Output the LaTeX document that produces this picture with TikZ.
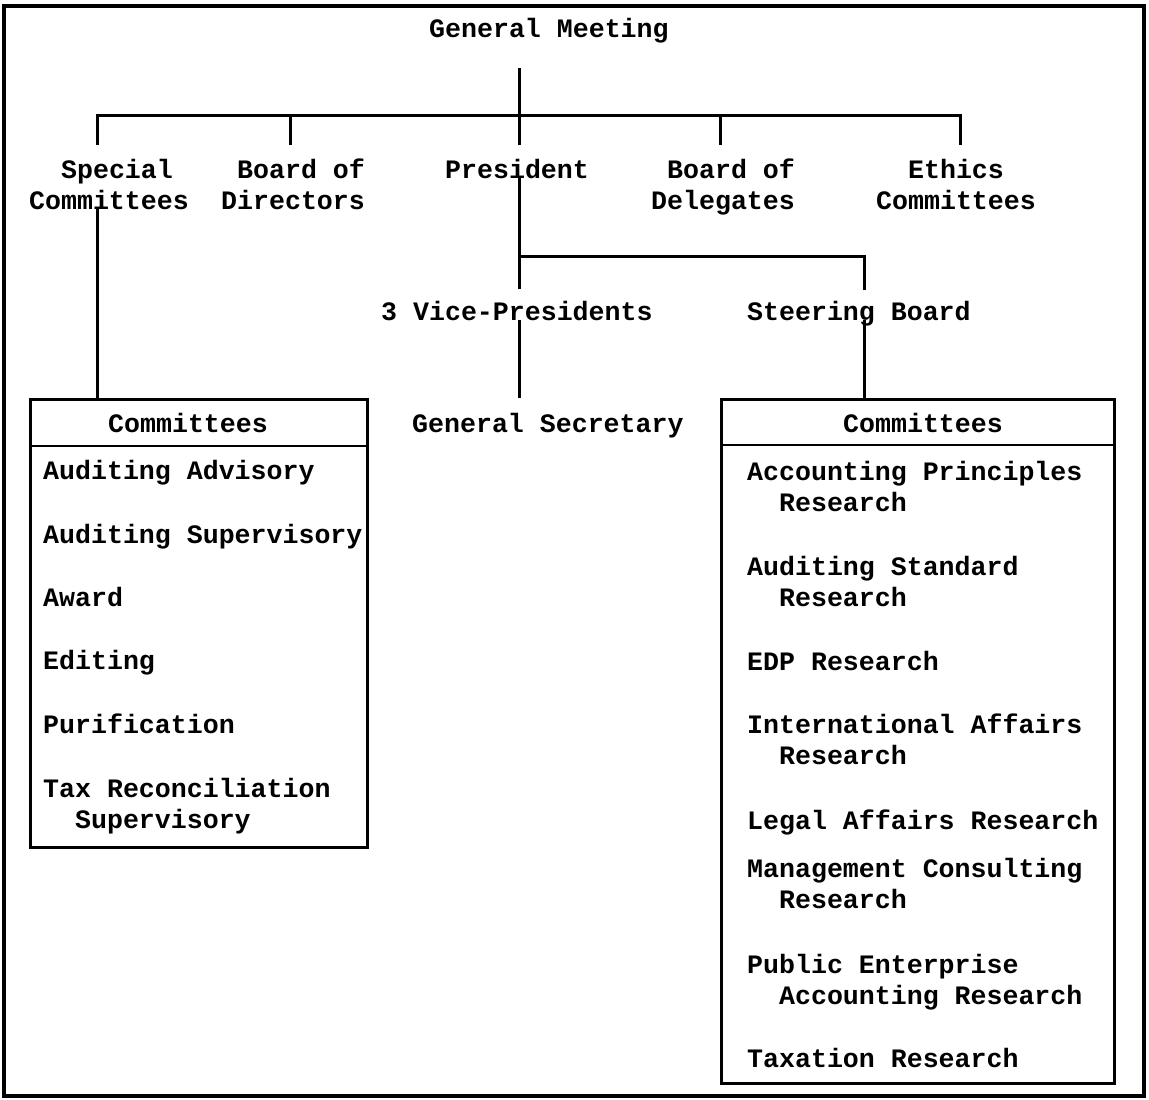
\documentclass[tikz,border=0pt]{standalone}
\usepackage{fontspec}
\setmainfont{Liberation Mono}
% width of one character of the monospaced face at the chart size
\newlength\cw
\setlength\cw{15.96pt}
\begin{document}
\begin{tikzpicture}[x=1pt,y=-1pt,
  every node/.style={font=\fontsize{26.6}{31}\selectfont\bfseries, inner sep=0pt},
  lbl/.style={anchor=base west},
  multi/.style={anchor=north west, align=left, yshift=21.7pt},
  conn/.style={line width=3pt},
  listbox/.style={draw, line width=2.8pt, anchor=north west},
  frame/.style={line width=3.5pt}]

\useasboundingbox (0,0) rectangle (1149,1100);
\draw[frame] (4,6) rectangle (1144,1096);

% committee boxes
\node[listbox, minimum width=337pt, minimum height=448pt] (lbox) at (29,398) {};
\node[listbox, minimum width=393pt, minimum height=684pt] (rbox) at (720,398) {};
\coordinate (lhd) at (29,446);
\coordinate (rhd) at (720,445);
\draw[line width=2.8pt] (lhd) -- (lhd -| lbox.east);
\draw[line width=2.8pt] (rhd) -- (rhd -| rbox.east);

% top level
\node[lbl] (gm) at (429,37) {General Meeting};
\node[multi] (spc) at (29,178) {\strut\hspace*{2\cw}Special\\Committees};
\node[multi] (bod) at (221,178) {\strut\hspace*{\cw}Board of\\Directors};
\node[lbl] (pres) at (445,178) {President};
\node[multi] (del) at (651,178) {\strut\hspace*{\cw}Board of\\Delegates};
\node[multi] (eth) at (876,178) {\strut\hspace*{2\cw}Ethics\\Committees};

% second level
\node[lbl] (vp) at (381,320) {3 Vice-Presidents};
\node[lbl] (sb) at (747,320) {Steering Board};
\node[lbl] (gs) at (412,432) {General Secretary};

% box headings
\node[lbl] (lhead) at (108,432) {Committees};
\node[lbl] (rhead) at (843,432) {Committees};

% left list
\node[multi] (l1) at (43,479) {\strut Auditing Advisory};
\node[multi] (l2) at (43,543) {\strut Auditing Supervisory};
\node[multi] (l3) at (43,606) {\strut Award};
\node[multi] (l4) at (43,669) {\strut Editing};
\node[multi] (l5) at (43,733) {\strut Purification};
\node[multi] (l6) at (43,797) {\strut Tax Reconciliation\\\hspace*{2\cw}Supervisory};

% right list
\node[multi] (r1) at (747,480) {\strut Accounting Principles\\\hspace*{2\cw}Research};
\node[multi] (r2) at (747,575) {\strut Auditing Standard\\\hspace*{2\cw}Research};
\node[multi] (r3) at (747,670) {\strut EDP Research};
\node[multi] (r4) at (747,733) {\strut International Affairs\\\hspace*{2\cw}Research};
\node[multi] (r5) at (747,829) {\strut Legal Affairs Research};
\node[multi] (r6) at (747,877) {\strut Management Consulting\\\hspace*{2\cw}Research};
\node[multi] (r7) at (747,973) {\strut Public Enterprise\\\hspace*{2\cw}Accounting Research};
\node[multi] (r8) at (747,1067) {\strut Taxation Research};

% connector end points
\coordinate (stem) at (519,68);
\coordinate (bus) at (519,115);
\coordinate (spcUp) at (97,145);
\coordinate (bodUp) at (290,145);
\coordinate (presUp) at (519,145);
\coordinate (delUp) at (720,145);
\coordinate (ethUp) at (960,145);
\coordinate (spcDn) at (97,208);
\coordinate (presDn) at (519,176);
\coordinate (split) at (519,256);
\coordinate (vpUp) at (519,289);
\coordinate (vpDn) at (519,320);
\coordinate (sbUp) at (864,290);
\coordinate (sbDn) at (864,320);

% connectors
\draw[conn] (stem) -- (presUp);
\draw[conn] (spcUp) |- (bus) -| (ethUp);
\draw[conn] (bodUp) -- (bodUp |- bus);
\draw[conn] (delUp) -- (delUp |- bus);
\draw[conn] (presDn) -- (vpUp);
\draw[conn] (split) -| (sbUp);
\draw[conn] (vpDn) -- (vpDn |- lbox.north);
\draw[conn] (sbDn) -- (sbDn |- rbox.north);
\draw[conn] (spcDn) -- (spcDn |- lbox.north);
\end{tikzpicture}
\end{document}
